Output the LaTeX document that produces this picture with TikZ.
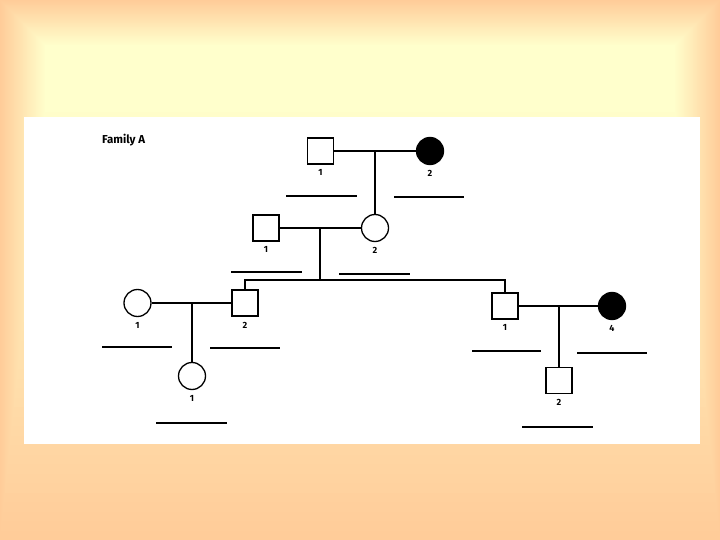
\documentclass[tikz,border=0pt]{standalone}
\usepackage{fontspec}
\setmainfont{Fira Sans}
\usetikzlibrary{positioning}
\definecolor{bgpeach}{RGB}{255,204,153}
\definecolor{bgyellow}{RGB}{255,255,204}

\begin{document}
\begin{tikzpicture}[x=1pt, y=-1pt, node distance=5pt,
			male/.style={draw, rectangle, minimum size=26pt, inner sep=0pt, line width=1.3pt},
			female/.style={draw, circle, minimum size=27pt, inner sep=0pt, line width=1.3pt},
			affected/.style={fill=black},
			num/.style={font=\bfseries\fontsize{9}{9}\selectfont, inner sep=0pt},
			rel/.style={line width=1.8pt},
			blank/.style={line width=1.5pt}]
			
			\useasboundingbox (0,0) rectangle (720,540);
			\foreach \i in {0,...,45} {
				\pgfmathtruncatemacro{\t}{100*\i/45}
				\fill[bgyellow!\t!bgpeach] (\i,\i) rectangle ({720-\i},{540-9.5*\i});
			}
			\fill[white] (24,117) rectangle (700,444);
			
			\node[anchor=west, inner sep=0pt, font=\bfseries\fontsize{11.5}{13}\selectfont] (title) at (102,140) {Family A};
			
			\node[male] (I1) at (320.5,151) {};
			\node[female, affected] (I2) at (430,151) {};
			\node[male] (II1) at (266,228) {};
			\node[female] (II2) at (375,228) {};
			\node[female] (III1) at (137.5,303) {};
			\node[male] (III2) at (245,303) {};
			\node[male] (III3) at (505,306) {};
			\node[female, affected] (III4) at (612,306) {};
			\node[female] (IV1) at (192,376) {};
			\node[male] (IV2) at (559,380.5) {};
			
			\node[num, below=of I1] (nI1) {1};
			\node[num, below=of I2] (nI2) {2};
			\node[num, below=of II1] (nII1) {1};
			\node[num, below=of II2] (nII2) {2};
			\node[num, below=of III1] (nIII1) {1};
			\node[num, below=of III2] (nIII2) {2};
			\node[num, below=of III3] (nIII3) {1};
			\node[num, below=of III4] (nIII4) {4};
			\node[num, below=of IV1] (nIV1) {1};
			\node[num, below=of IV2] (nIV2) {2};
			
			\coordinate (sib) at (320,280);
			
			\draw[rel] (I1) -- (I2);
			\draw[rel] (II2) -- (II2 |- I1);
			\draw[rel] (II1) -- (II2);
			\draw[rel] (sib |- II1) -- (sib);
			\draw[rel] (III2) -- (III2 |- sib) -- (III3 |- sib) -- (III3);
			\draw[rel] (III1) -- (III2);
			\draw[rel] (IV1) -- (IV1 |- III1);
			\draw[rel] (III3) -- (III4);
			\draw[rel] (IV2) -- (IV2 |- III3);
			
			\foreach \xa/\xb/\yy in {286/357/196, 394/464/197, 231/302/272, 339/410/274,
				102/172/347, 210/280/348, 156/227/423, 472/541/351, 577/647/353, 522/593/427}
			\draw[blank] (\xa,\yy) -- (\xb,\yy);
			
		\end{tikzpicture}
\end{document}
